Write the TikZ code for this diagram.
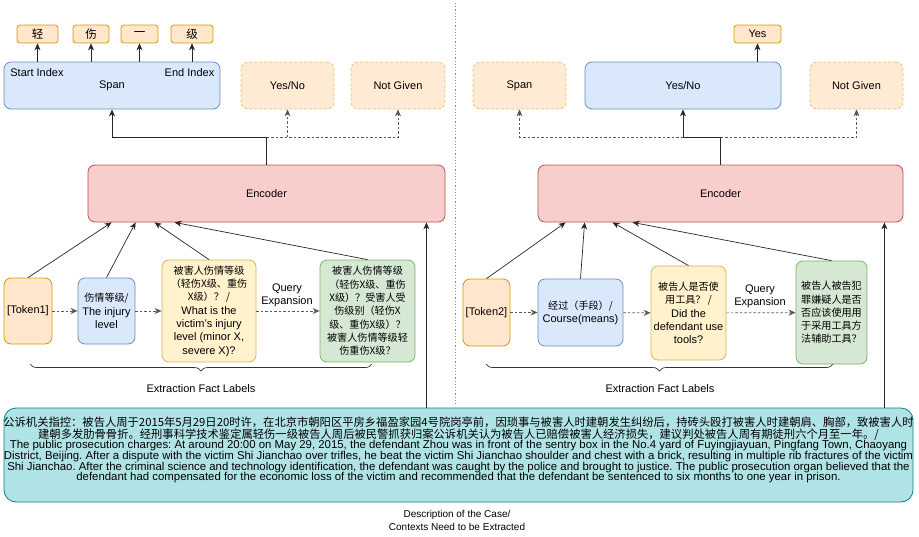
\documentclass[tikz,border=0pt]{standalone}
\usepackage{fontspec}
\setmainfont{Liberation Sans}
\newfontfamily\cjk{Noto Sans CJK SC}
\usetikzlibrary{calc,arrows.meta,decorations.pathreplacing}

\definecolor{orgfill}{HTML}{FFE6CC}
\definecolor{orgline}{HTML}{D79B00}
\definecolor{ylwfill}{HTML}{FFF2CC}
\definecolor{ylwline}{HTML}{D6B656}
\definecolor{blufill}{HTML}{DAE8FC}
\definecolor{bluline}{HTML}{6C8EBF}
\definecolor{redfill}{HTML}{F8CECC}
\definecolor{redline}{HTML}{B85450}
\definecolor{grnfill}{HTML}{D5E8D4}
\definecolor{grnline}{HTML}{82B366}
\definecolor{tealfill}{HTML}{B0E3E6}
\definecolor{tealline}{HTML}{0E8088}

\newcommand\boxfont{\fontsize{11}{13.3}\selectfont}
\newcommand\zh[1]{{\cjk\fontsize{10.1}{13.3}\selectfont #1}}
\newcommand\zht[1]{{\cjk\fontsize{11.5}{13.3}\selectfont #1}}
\newcommand\zhd[1]{{\cjk\fontsize{11.3}{10.7}\selectfont #1}}

\tikzset{
  box/.style={rounded corners=7pt, align=center, inner sep=1pt, line width=0.8pt, font=\boxfont},
  wh/.style 2 args={minimum width=#1pt, minimum height=#2pt},
  orgbox/.style={box, draw=orgline, fill=orgfill},
  ylwbox/.style={box, draw=ylwline, fill=ylwfill},
  blubox/.style={box, draw=bluline, fill=blufill},
  redbox/.style={box, draw=redline, fill=redfill},
  grnbox/.style={box, draw=grnline, fill=grnfill},
  optbox/.style={box, draw=orgline!55, fill=orgfill!85, dash pattern=on 3pt off 2pt},
  tagbox/.style={orgbox, rounded corners=3pt},
  plain/.style={align=center, inner sep=1pt, font=\boxfont},
  link/.style={-{Stealth[length=7pt,width=6pt]}, line width=0.7pt, draw=black!85},
  dlink/.style={link, draw=black!65, dash pattern=on 2.5pt off 2pt},
  fact/.style={decorate, decoration={brace, mirror, amplitude=7pt}, line width=0.7pt, draw=black!80},
}

\begin{document}
\frenchspacing
\begin{tikzpicture}[x=1pt,y=-1pt]
\useasboundingbox (0,0) rectangle (919,536);

% ---- left: output heads
\node[tagbox,wh={41}{18}] (ch1) at (37.5,34) {\zht{轻}};
\node[tagbox,wh={36}{18}] (ch2) at (91,34) {\zht{伤}};
\node[tagbox,wh={37}{18}] (ch3) at (139.5,34) {\zht{一}};
\node[tagbox,wh={42}{18}] (ch4) at (192,34) {\zht{级}};
\node[blubox,wh={216}{47}] (spanA) at (112,85.5) {};
\node[plain] (startA) at (37,73) {Start Index};
\node[plain] (endA) at (189.5,73) {End Index};
\node[plain] at (112,86) {Span};
\node[optbox,wh={93}{47}] (ynA) at (287.5,85.5) {Yes/No};
\node[optbox,wh={94}{47}] (ngA) at (398,85.5) {Not Given};
\foreach \c in {ch1,ch2,ch3,ch4}
  \draw[link] (\c.south |- spanA.north) -- (\c.south);

% ---- left: encoder
\node[redbox,wh={357}{57}] (encA) at (266.5,193.5) {Encoder};
\coordinate (jA) at (266.5,137);
\draw[line width=0.7pt, draw=black!85] (encA.north) -- (jA);
\draw[link] (jA) -| (spanA.south);
\draw[dlink] (jA) -| (ngA.south);
\draw[dlink] (ynA.south |- jA) -- (ynA.south);

% ---- left: extraction fact labels
\node[orgbox,wh={48}{66}] (tok1) at (28,311) {[Token1]};
\node[blubox,wh={57}{66}] (injA) at (106.5,311) {\zh{伤情等级/}\\The injury\\level};
\node[ylwbox,wh={94}{102}] (qA) at (209,311)
  {\zh{被害人伤情等级}\\\zh{（轻伤X级、重伤}\\\zh{X级）？ /}\\What is the\\victim's injury\\level (minor X,\\severe X)?};
\node[grnbox,wh={95}{102}] (qeA) at (367.5,311)
  {\zh{被害人伤情等级}\\\zh{（轻伤X级、重伤}\\\zh{X级）？受害人受}\\\zh{伤级别（轻伤X}\\\zh{级、重伤X级）？}\\\zh{被害人伤情等级轻}\\\zh{伤重伤X级？}};
\node[plain] (qxA) at (287,295) {Query\\Expansion};
\draw[dlink] (tok1) -- (injA);
\draw[dlink] (injA) -- (qA);
\draw[dlink] (qA) -- (qeA);
\draw[link] (tok1.north) -- ($(encA.south west)+(24,0)$);
\draw[link] (injA.north) -- ($(encA.south west)+(48,0)$);
\draw[link] (qA.north) -- ($(encA.south west)+(67,0)$);
\draw[link] (qeA.north) -- ($(encA.south west)+(87,0)$);
\coordinate (bA1) at (30,364);
\coordinate (bA2) at (372,364);
\draw[fact] (bA1) -- (bA2);
\node[plain] (lblA) at (201,389) {Extraction Fact Labels};

% ---- divider
\draw[draw=black!45, line width=0.8pt, dash pattern=on 1.2pt off 2pt] (455,3) -- (455,406);

% ---- right: output heads
\node[tagbox,wh={47}{18}] (yes) at (757.5,34) {Yes};
\node[optbox,wh={93}{47}] (spanB) at (519.5,85.5) {Span};
\node[blubox,wh={196}{47}] (ynB) at (683,85.5) {Yes/No};
\node[optbox,wh={93}{47}] (ngB) at (856.5,85.5) {Not Given};
\draw[link] (yes.south |- ynB.north) -- (yes.south);

% ---- right: encoder
\node[redbox,wh={365}{57}] (encB) at (720.5,193.5) {Encoder};
\coordinate (jB) at (720.5,137);
\draw[line width=0.7pt, draw=black!85] (encB.north) -- (jB);
\draw[link] (jB) -| (ynB.south);
\draw[dlink] (ynB.south |- jB) -| (spanB.south);
\draw[dlink] (jB) -| (ngB.south);

% ---- right: extraction fact labels
\node[orgbox,wh={47}{67}] (tok2) at (486.5,312.5) {[Token2]};
\node[blubox,wh={85}{67}] (wayB) at (580.5,312.5) {\zh{经过（手段）/}\\Course(means)};
\node[ylwbox,wh={75}{94}] (qB) at (688.5,313)
  {\zh{被告人是否使}\\\zh{用工具？ /}\\Did the\\defendant use\\tools?};
\node[grnbox,wh={71}{103}] (qeB) at (831.5,312.5)
  {\zh{被告人被告犯}\\\zh{罪嫌疑人是否}\\\zh{否应该使用用}\\\zh{于采用工具方}\\\zh{法辅助工具？}};
\node[plain] (qxB) at (760,296) {Query\\Expansion};
\draw[dlink] (tok2) -- (wayB);
\draw[dlink] (wayB) -- (qB);
\draw[dlink] (qB) -- (qeB);
\draw[link] (tok2.north) -- ($(encB.south west)+(28,0)$);
\draw[link] (wayB.north) -- ($(encB.south west)+(47,0)$);
\draw[link] (qB.north) -- ($(encB.south west)+(75,0)$);
\draw[link] (qeB.north) -- ($(encB.south west)+(95,0)$);
\coordinate (bB1) at (486,364);
\coordinate (bB2) at (833,364);
\draw[fact] (bB1) -- (bB2);
\node[plain] (lblB) at (660,389) {Extraction Fact Labels};

% ---- case description
\node[box, draw=tealline, fill=tealfill, rounded corners=12pt, wh={909}{94}] (desc) at (458.5,455) {};
\node[align=center, inner sep=0pt, font=\fontsize{11.4}{10.7}\selectfont] (descTxt) at (458.5,450)
  {\zhd{公诉机关指控：被告人周于2015年5月29日20时许，在北京市朝阳区平房乡福盈家园4号院岗亭前，因琐事与被害人时建朝发生纠纷后，持砖头殴打被害人时建朝肩、胸部，致被害人时}\\
   \zhd{建朝多发肋骨骨折。经刑事科学技术鉴定属轻伤一级被告人周后被民警抓获归案公诉机关认为被告人已赔偿被害人经济损失，建议判处被告人周有期徒刑六个月至一年。/}\\
   The public prosecution charges: At around 20:00 on May 29, 2015, the defendant Zhou was in front of the sentry box in the No.4 yard of Fuyingjiayuan, Pingfang Town, Chaoyang\\
   District, Beijing. After a dispute with the victim Shi Jianchao over trifles, he beat the victim Shi Jianchao shoulder and chest with a brick, resulting in multiple rib fractures of the victim\\
   Shi Jianchao. After the criminal science and technology identification, the defendant was caught by the police and brought to justice. The public prosecution organ believed that the\\
   defendant had compensated for the economic loss of the victim and recommended that the defendant be sentenced to six months to one year in prison.};
\node[align=center, inner sep=0pt, font=\fontsize{10}{13}\selectfont] (descLbl) at (457,520.5) {Description of the Case/\\Contexts Need to be Extracted};
\coordinate (inA) at ($(encA.south east)+(-19,0)$);
\coordinate (inB) at ($(encB.south east)+(-19,0)$);
\draw[link] (desc.north -| inA) -- (inA);
\draw[link] (desc.north -| inB) -- (inB);
\end{tikzpicture}
\end{document}
